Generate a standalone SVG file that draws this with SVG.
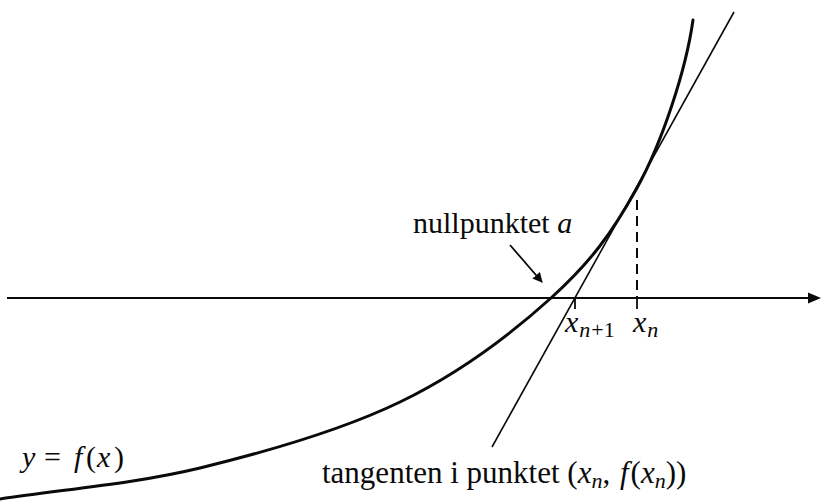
<svg xmlns="http://www.w3.org/2000/svg" width="821" height="501" viewBox="0 0 821 501">
<defs>
<style>
.t{font-family:"Liberation Serif","Times New Roman",serif;font-size:30px;fill:#0a0a0a;}
.i{font-style:italic;}
.s{font-size:22px;}
.ln{stroke:#0a0a0a;fill:none;}
</style>
<marker id="ah" viewBox="0 0 10 10" refX="9" refY="5" markerWidth="10" markerHeight="10" markerUnits="userSpaceOnUse" orient="auto">
<path d="M0,0 L10,5 L0,10 z" fill="#0a0a0a"/>
</marker>
</defs>
<rect width="821" height="501" fill="#fff"/>
<g id="connectors">
<line id="axis" class="ln" x1="7" y1="298" x2="811" y2="298" stroke-width="2.2"/>
<path d="M821,298 L808,292.5 L808,303.5 z" fill="#0a0a0a"/>
<line id="tick-xn1" class="ln" x1="575" y1="298" x2="575" y2="309" stroke-width="1.8"/>
<line id="tick-xn" class="ln" x1="637" y1="298" x2="637" y2="309" stroke-width="1.8"/>
<line id="dashed" class="ln" x1="637" y1="200" x2="637" y2="298" stroke-width="2" stroke-dasharray="10,6"/>
<line id="tangent" class="ln" x1="734" y1="12" x2="492" y2="447" stroke-width="1.6"/>
<path id="curve" class="ln" stroke-width="3" stroke-linecap="round" d="M0,499 C66.7,489 133.3,484 200,468 C266.7,451.7 341.5,430.3 400,402 C458.5,373.7 511.5,333.7 551,298 C590.5,262.3 612,233.1 637,188 C662,142.9 686,70 693,20"/>
<line id="pointer" class="ln" x1="510" y1="245" x2="542" y2="282" stroke-width="1.8" marker-end="url(#ah)"/>
</g>
<g id="label-nullpunkt"><text class="t" x="413" y="233">nullpunktet <tspan class="i">a</tspan></text></g>
<g id="label-xn1"><text class="t i" x="565" y="332">x<tspan class="s" dx="1" dy="5">n</tspan><tspan class="s" style="font-style:normal" dx="1">+1</tspan></text></g>
<g id="label-xn"><text class="t i" x="633" y="332">x<tspan class="s" dx="1" dy="5">n</tspan></text></g>
<g id="label-f"><text class="t" y="467"><tspan class="i" x="22">y</tspan><tspan x="44">=</tspan><tspan class="i" x="74">f</tspan><tspan x="86">(</tspan><tspan class="i" x="97">x</tspan><tspan x="114">)</tspan></text></g>
<g id="label-tangent"><text class="t" x="322" y="483" style="font-size:31px">tangenten i punktet (<tspan class="i">x</tspan><tspan class="s i" dy="5">n</tspan><tspan dy="-5">, </tspan><tspan class="i" dx="2">f</tspan><tspan dx="2">(</tspan><tspan class="i">x</tspan><tspan class="s i" dy="5">n</tspan><tspan dy="-5">))</tspan></text></g>
</svg>
